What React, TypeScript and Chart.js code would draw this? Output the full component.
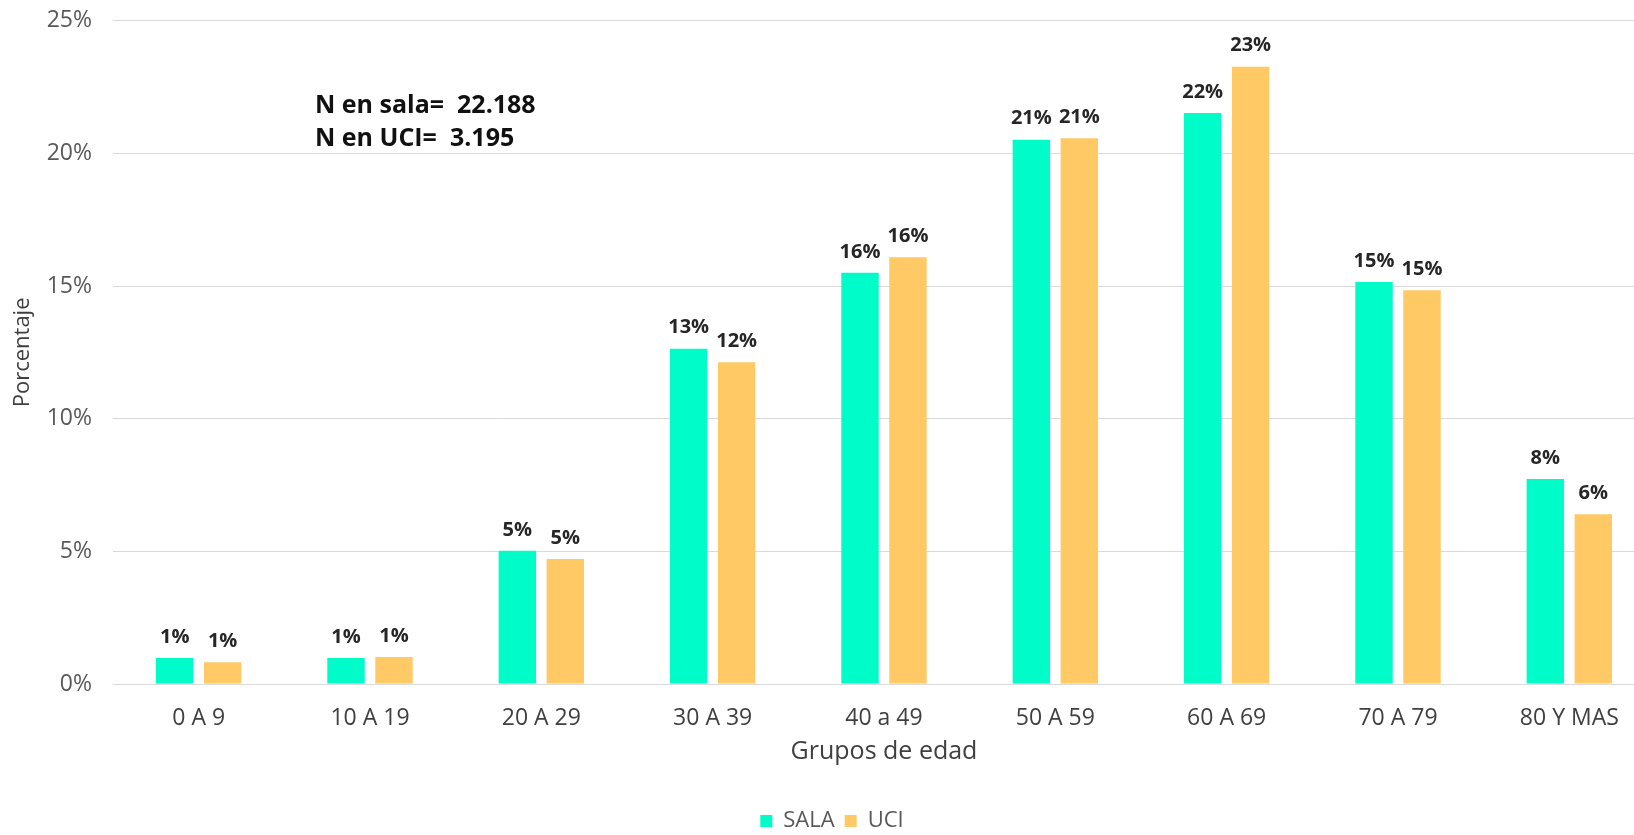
import React, { useEffect, useRef } from "react";
import { Chart, registerables } from "chart.js";

Chart.register(...registerables);

const categories = ["0 A 9", "10 A 19", "20 A 29", "30 A 39", "40 a 49", "50 A 59", "60 A 69", "70 A 79", "80 Y MAS"];
const seriesNames = ["SALA", "UCI"];
const salaValues = [0.98, 0.98, 5.02, 12.64, 15.5, 20.52, 21.52, 15.15, 7.73];
const uciValues = [0.82, 1.02, 4.71, 12.13, 16.09, 20.57, 23.27, 14.84, 6.4];
const yTickValues = [0, 5, 10, 15, 20, 25];
const annotationLabels = ["N en sala=", "N en UCI="];
const annotationValues = ["22.188", "3.195"];
const xTitle = "Grupos de edad";
const yTitle = "Porcentaje";

const FONT = "'Open Sans', 'Noto Sans', sans-serif";
const SALA_COLOR = "#00FCC8";
const UCI_COLOR = "#FFC966";

const valueLabelPlugin = {
  id: "valueLabels",
  afterDatasetsDraw(chart: any) {
    const ctx = chart.ctx;
    ctx.save();
    ctx.font = `bold 20px ${FONT}`;
    ctx.fillStyle = "#262626";
    ctx.textAlign = "center";
    ctx.textBaseline = "middle";
    chart.data.datasets.forEach((ds: any, di: number) => {
      const meta = chart.getDatasetMeta(di);
      meta.data.forEach((el: any, i: number) => {
        const v = ds.data[i];
        ctx.fillText(`${Math.round(v)}%`, el.x, el.y - 21);
      });
    });
    ctx.restore();
  },
};

const annotationPlugin = {
  id: "annotationText",
  afterDraw(chart: any) {
    const ctx = chart.ctx;
    const area = chart.chartArea;
    ctx.save();
    ctx.font = `bold 25px ${FONT}`;
    ctx.fillStyle = "#111111";
    ctx.textAlign = "left";
    ctx.textBaseline = "middle";
    annotationLabels.forEach((label, i) => {
      const x = area.left + 202;
      const y = area.top + 85 + i * 33.5;
      ctx.fillText(label, x, y);
      const w = ctx.measureText(label).width;
      ctx.fillText(annotationValues[i], x + w + 13, y);
    });
    ctx.restore();
  },
};

export default function App() {
  const canvasRef = useRef<HTMLCanvasElement | null>(null);

  useEffect(() => {
    if (!canvasRef.current) return;
    const chart = new Chart(canvasRef.current, {
      type: "bar",
      data: {
        labels: categories,
        datasets: [
          {
            label: seriesNames[0],
            data: salaValues,
            backgroundColor: SALA_COLOR,
            borderWidth: 0,
            categoryPercentage: 0.56,
            barPercentage: 0.78,
          },
          {
            label: seriesNames[1],
            data: uciValues,
            backgroundColor: UCI_COLOR,
            borderWidth: 0,
            categoryPercentage: 0.56,
            barPercentage: 0.78,
          },
        ],
      },
      options: {
        animation: false,
        responsive: true,
        maintainAspectRatio: false,
        layout: { padding: { left: 9, right: 25, top: 6, bottom: 0 } },
        plugins: {
          legend: {
            position: "bottom",
            labels: {
              boxWidth: 12,
              boxHeight: 12,
              padding: 10,
              color: "#595959",
              font: { family: FONT, size: 22 },
            },
          },
          tooltip: { enabled: false },
        },
        scales: {
          x: {
            grid: { display: false, drawTicks: false },
            border: { display: false },
            ticks: {
              color: "#404040",
              padding: 21,
              font: { family: FONT, size: 23 },
            },
            title: {
              display: true,
              text: xTitle,
              color: "#404040",
              font: { family: FONT, size: 25 },
              padding: { top: 0, bottom: 33 },
            },
            afterFit(scale: any) {
              scale.height = 116;
            },
          },
          y: {
            min: 0,
            max: 25,
            afterBuildTicks(scale: any) {
              scale.ticks = yTickValues.map((v) => ({ value: v }));
            },
            grid: { color: "#d9d9d9", lineWidth: 1, drawTicks: false },
            border: { display: false },
            ticks: {
              color: "#595959",
              padding: 21,
              font: { family: FONT, size: 23 },
              callback: (v: any) => `${v}%`,
            },
            title: {
              display: true,
              text: yTitle,
              color: "#404040",
              font: { family: FONT, size: 22 },
              padding: { top: 1, bottom: 0 },
            },
            afterFit(scale: any) {
              scale.width = 104;
            },
          },
        },
      },
      plugins: [valueLabelPlugin, annotationPlugin],
    });
    return () => chart.destroy();
  }, []);

  return (
    <div style={{ position: "fixed", left: 0, top: 0, width: 1634, height: 835, overflow: "hidden", background: "#fff" }}>
      <div style={{ position: "absolute", left: 0, top: -14, width: 1680, height: 856 }}>
        <canvas ref={canvasRef} />
      </div>
    </div>
  );
}
